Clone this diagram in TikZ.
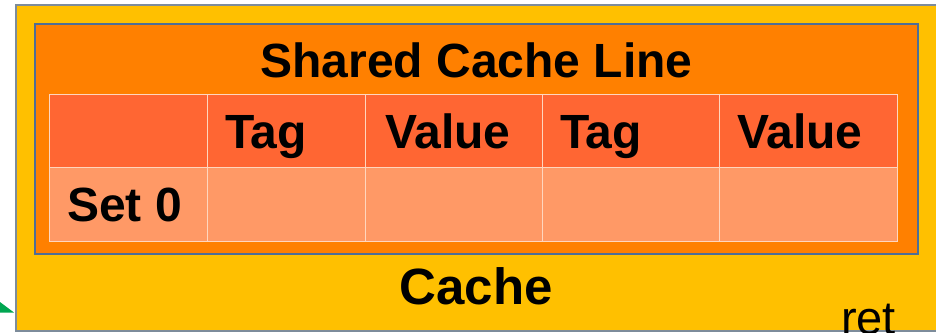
\documentclass[tikz,border=0pt]{standalone}
\usepackage{fontspec}
\setmainfont{Liberation Sans}
\definecolor{cacheyellow}{RGB}{255,192,0}
\definecolor{lineorange}{RGB}{255,128,0}
\definecolor{headcell}{RGB}{255,102,51}
\definecolor{bodycell}{RGB}{255,153,102}
\definecolor{frameblue}{RGB}{79,110,150}
\definecolor{framegray}{RGB}{125,140,155}
\definecolor{cellline}{RGB}{255,214,190}
\definecolor{arrowgreen}{RGB}{0,166,81}
\tikzset{
  big/.style={font=\fontsize{48}{52}\selectfont\bfseries, inner sep=0pt},
  celltext/.style={big, anchor=base west},
  plain/.style={font=\fontsize{47}{50}\selectfont, inner sep=0pt},
  gridline/.style={draw=cellline, line width=0.9pt}
}
\begin{document}
\begin{tikzpicture}[x=1pt, y=-1pt]
\useasboundingbox (0,0) rectangle (936,332);
% outer cache block
\fill[cacheyellow] (16,5) rectangle (945,331);
\draw[framegray, line width=1.4pt] (945,5) -- (16,5) -- (16,331) -- (945,331);
% shared cache line block
\filldraw[fill=lineorange, draw=frameblue, line width=1.2pt] (35,24) rectangle (918,254);
% table rows
\fill[headcell] (49,94) rectangle (897,167);
\fill[bodycell] (49,167) rectangle (897,241);
\draw[gridline] (49,94) rectangle (897,241);
\draw[gridline] (49,167) -- (897,167);
\foreach \cx in {207,365,542,719} \draw[gridline] (\cx,94) -- (\cx,241);
% labels
\node[big, anchor=base] (title) at (476.5,77) {Shared Cache Line};
\node[celltext] (tag1) at (225,148) {Tag};
\node[celltext] (val1) at (385,148) {Value};
\node[celltext] (tag2) at (560,148) {Tag};
\node[celltext] (val2) at (737,148) {Value};
\node[celltext] (set0) at (67,221) {Set 0};
\node[big, font=\fontsize{51}{54}\selectfont\bfseries, anchor=base] (cache) at (476,304) {Cache};
\node[plain, anchor=base west] (ret) at (841,334) {ret};
% incoming arrow tip
\fill[arrowgreen] (0,302) -- (14,312.5) -- (0,312.5) -- cycle;
\end{tikzpicture}
\end{document}
